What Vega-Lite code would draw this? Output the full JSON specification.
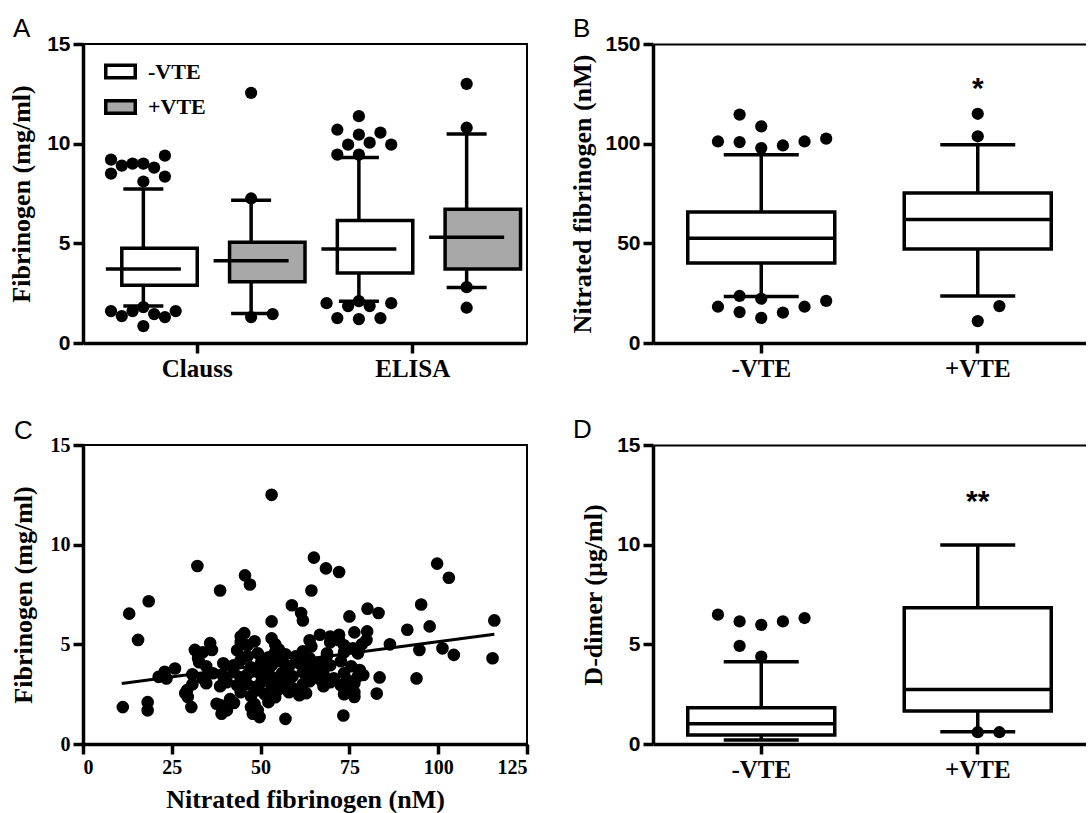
{
  "$schema": "https://vega.github.io/schema/vega-lite/v6.json",
  "padding": {"left": 7, "top": 15, "right": 0, "bottom": 0},
  "columns": 2,
  "spacing": {"row": 102, "column": 126},
  "bounds": "flush",
  "datasets": {
    "boxA": [
      {"method": "Clauss", "group": "-VTE", "lower": 1.85, "q1": 2.9, "median": 3.71, "q3": 4.75, "upper": 7.72},
      {"method": "Clauss", "group": "+VTE", "lower": 1.48, "q1": 3.07, "median": 4.13, "q3": 5.06, "upper": 7.16},
      {"method": "ELISA", "group": "-VTE", "lower": 2.1, "q1": 3.51, "median": 4.72, "q3": 6.15, "upper": 9.3},
      {"method": "ELISA", "group": "+VTE", "lower": 2.78, "q1": 3.71, "median": 5.31, "q3": 6.71, "upper": 10.48}
    ],
    "outA": [
      {"box": "Clauss -VTE", "slot": -3, "value": 9.2}, {"box": "Clauss -VTE", "slot": -3, "value": 8.5},
      {"box": "Clauss -VTE", "slot": -2, "value": 8.9}, {"box": "Clauss -VTE", "slot": -1, "value": 9.0},
      {"box": "Clauss -VTE", "slot": 0, "value": 9.0}, {"box": "Clauss -VTE", "slot": 0, "value": 8.1},
      {"box": "Clauss -VTE", "slot": 1, "value": 8.8}, {"box": "Clauss -VTE", "slot": 2, "value": 9.4},
      {"box": "Clauss -VTE", "slot": 2, "value": 8.35},
      {"box": "Clauss -VTE", "slot": -3, "value": 1.6}, {"box": "Clauss -VTE", "slot": -2, "value": 1.35},
      {"box": "Clauss -VTE", "slot": -1, "value": 1.6}, {"box": "Clauss -VTE", "slot": 0, "value": 1.8},
      {"box": "Clauss -VTE", "slot": 1, "value": 1.45}, {"box": "Clauss -VTE", "slot": 2, "value": 1.3},
      {"box": "Clauss -VTE", "slot": 3, "value": 1.6}, {"box": "Clauss -VTE", "slot": 0, "value": 0.85},
      {"box": "Clauss +VTE", "slot": 0, "value": 12.55}, {"box": "Clauss +VTE", "slot": 0, "value": 7.25},
      {"box": "Clauss +VTE", "slot": 0, "value": 1.3}, {"box": "Clauss +VTE", "slot": 2, "value": 1.45},
      {"box": "ELISA -VTE", "slot": 0, "value": 11.38}, {"box": "ELISA -VTE", "slot": -2, "value": 10.7},
      {"box": "ELISA -VTE", "slot": 0, "value": 10.45}, {"box": "ELISA -VTE", "slot": 2, "value": 10.55},
      {"box": "ELISA -VTE", "slot": -1, "value": 9.95}, {"box": "ELISA -VTE", "slot": 1, "value": 10.05},
      {"box": "ELISA -VTE", "slot": 3, "value": 9.95}, {"box": "ELISA -VTE", "slot": -2, "value": 9.45},
      {"box": "ELISA -VTE", "slot": 0, "value": 9.45},
      {"box": "ELISA -VTE", "slot": -3, "value": 2.0}, {"box": "ELISA -VTE", "slot": 0, "value": 2.1},
      {"box": "ELISA -VTE", "slot": 3, "value": 2.0}, {"box": "ELISA -VTE", "slot": -2, "value": 1.25},
      {"box": "ELISA -VTE", "slot": 0, "value": 1.2}, {"box": "ELISA -VTE", "slot": 2, "value": 1.25},
      {"box": "ELISA -VTE", "slot": -1, "value": 1.85}, {"box": "ELISA -VTE", "slot": 1, "value": 1.85},
      {"box": "ELISA +VTE", "slot": 0, "value": 13.0}, {"box": "ELISA +VTE", "slot": 0, "value": 10.8},
      {"box": "ELISA +VTE", "slot": 0, "value": 2.8}, {"box": "ELISA +VTE", "slot": 0, "value": 1.77}
    ],
    "boxB": [
      {"group": "-VTE", "lower": 23.3, "q1": 40.1, "median": 52.6, "q3": 65.7, "upper": 94.4},
      {"group": "+VTE", "lower": 23.6, "q1": 47.2, "median": 62.0, "q3": 75.3, "upper": 99.4}
    ],
    "outB": [
      {"group": "-VTE", "slot": -1, "value": 114.6}, {"group": "-VTE", "slot": 0, "value": 108.7},
      {"group": "-VTE", "slot": -2, "value": 101.1}, {"group": "-VTE", "slot": -1, "value": 100.8},
      {"group": "-VTE", "slot": 0, "value": 97.8}, {"group": "-VTE", "slot": 1, "value": 99.1},
      {"group": "-VTE", "slot": 2, "value": 101.1}, {"group": "-VTE", "slot": 3, "value": 102.5},
      {"group": "-VTE", "slot": -1, "value": 23.6}, {"group": "-VTE", "slot": 0, "value": 22.2},
      {"group": "-VTE", "slot": -2, "value": 18.2}, {"group": "-VTE", "slot": -1, "value": 15.5},
      {"group": "-VTE", "slot": 0, "value": 12.6}, {"group": "-VTE", "slot": 1, "value": 15.2},
      {"group": "-VTE", "slot": 2, "value": 18.2}, {"group": "-VTE", "slot": 3, "value": 21.1},
      {"group": "+VTE", "slot": 0, "value": 115.0}, {"group": "+VTE", "slot": 0, "value": 103.7},
      {"group": "+VTE", "slot": 1, "value": 18.5}, {"group": "+VTE", "slot": 0, "value": 11.0}
    ],
    "starB": [{"group": "+VTE", "value": 122.8, "label": "*"}],
    "boxD": [
      {"group": "-VTE", "lower": 0.2, "q1": 0.455, "median": 1.01, "q3": 1.82, "upper": 4.13},
      {"group": "+VTE", "lower": 0.62, "q1": 1.65, "median": 2.73, "q3": 6.83, "upper": 9.98}
    ],
    "outD": [
      {"group": "-VTE", "slot": -2, "value": 6.49}, {"group": "-VTE", "slot": -1, "value": 6.15},
      {"group": "-VTE", "slot": 0, "value": 5.98}, {"group": "-VTE", "slot": 1, "value": 6.15},
      {"group": "-VTE", "slot": 2, "value": 6.32}, {"group": "-VTE", "slot": -1, "value": 4.92},
      {"group": "-VTE", "slot": 0, "value": 4.38},
      {"group": "+VTE", "slot": 0, "value": 0.59}, {"group": "+VTE", "slot": 1, "value": 0.59}
    ],
    "starD": [{"group": "+VTE", "value": 11.7, "label": "**"}],
    "fitC": [{"nf": 10.9, "fib": 3.03}, {"nf": 115.8, "fib": 5.51}],
    "scatterC": [
      {"nf": 53.1, "fib": 12.5}, {"nf": 32.2, "fib": 8.93}, {"nf": 38.6, "fib": 7.7}, {"nf": 45.6, "fib": 8.46},
      {"nf": 47.0, "fib": 8.0}, {"nf": 18.5, "fib": 7.16}, {"nf": 13.0, "fib": 6.54}, {"nf": 15.5, "fib": 5.22},
      {"nf": 11.2, "fib": 1.85}, {"nf": 18.2, "fib": 2.1}, {"nf": 18.2, "fib": 1.69}, {"nf": 65.0, "fib": 9.35},
      {"nf": 68.4, "fib": 8.81}, {"nf": 72.1, "fib": 8.63}, {"nf": 64.3, "fib": 7.7}, {"nf": 58.8, "fib": 6.96},
      {"nf": 61.4, "fib": 6.57}, {"nf": 61.9, "fib": 6.2}, {"nf": 53.1, "fib": 6.15}, {"nf": 75.0, "fib": 6.4},
      {"nf": 80.1, "fib": 6.79}, {"nf": 83.2, "fib": 6.57}, {"nf": 76.4, "fib": 5.6}, {"nf": 80.0, "fib": 5.65},
      {"nf": 79.8, "fib": 5.22}, {"nf": 86.4, "fib": 5.0}, {"nf": 91.3, "fib": 5.73}, {"nf": 95.2, "fib": 7.0},
      {"nf": 97.6, "fib": 5.9}, {"nf": 99.7, "fib": 9.05}, {"nf": 103.0, "fib": 8.34}, {"nf": 115.8, "fib": 6.2},
      {"nf": 115.3, "fib": 4.3}, {"nf": 94.7, "fib": 4.72}, {"nf": 101.2, "fib": 4.8}, {"nf": 104.4, "fib": 4.47},
      {"nf": 93.9, "fib": 3.29}, {"nf": 83.5, "fib": 3.34}, {"nf": 82.7, "fib": 2.53}, {"nf": 78.9, "fib": 3.46},
      {"nf": 77.9, "fib": 3.71}, {"nf": 73.3, "fib": 1.43}, {"nf": 57.0, "fib": 1.26}, {"nf": 49.7, "fib": 1.35},
      {"nf": 47.8, "fib": 1.52}, {"nf": 44.4, "fib": 5.39}, {"nf": 45.4, "fib": 5.56}, {"nf": 35.8, "fib": 5.06},
      {"nf": 36.3, "fib": 4.72}, {"nf": 31.5, "fib": 4.72}, {"nf": 32.4, "fib": 4.3}, {"nf": 25.9, "fib": 3.79},
      {"nf": 23.0, "fib": 3.62}, {"nf": 21.3, "fib": 3.37}, {"nf": 23.5, "fib": 3.29}, {"nf": 29.3, "fib": 2.7},
      {"nf": 29.5, "fib": 2.36}, {"nf": 30.5, "fib": 1.85}, {"nf": 37.6, "fib": 2.02}, {"nf": 39.0, "fib": 1.52},
      {"nf": 40.5, "fib": 1.69}, {"nf": 42.5, "fib": 2.06}, {"nf": 47.3, "fib": 1.85}, {"nf": 76.4, "fib": 2.36},
      {"nf": 75.5, "fib": 2.7}, {"nf": 72.1, "fib": 5.48}, {"nf": 66.7, "fib": 5.48}, {"nf": 69.6, "fib": 5.39},
      {"nf": 64.3, "fib": 4.89}, {"nf": 68.7, "fib": 4.55}, {"nf": 76.0, "fib": 4.8}, {"nf": 78.5, "fib": 5.0},
      {"nf": 44.4, "fib": 5.1}, {"nf": 46.3, "fib": 4.95}, {"nf": 48.3, "fib": 5.15}, {"nf": 53.1, "fib": 5.3},
      {"nf": 54.1, "fib": 5.0}, {"nf": 63.8, "fib": 5.2}, {"nf": 69.6, "fib": 5.1}, {"nf": 72.1, "fib": 5.2},
      {"nf": 73.5, "fib": 4.95},
      {"nf": 33.7, "fib": 4.6}, {"nf": 43.4, "fib": 4.7}, {"nf": 46.3, "fib": 4.4}, {"nf": 49.2, "fib": 4.55},
      {"nf": 52.2, "fib": 4.35}, {"nf": 54.1, "fib": 4.6}, {"nf": 57.0, "fib": 4.5}, {"nf": 59.9, "fib": 4.4},
      {"nf": 61.9, "fib": 4.65}, {"nf": 63.8, "fib": 4.3}, {"nf": 68.7, "fib": 4.45}, {"nf": 73.5, "fib": 4.6},
      {"nf": 77.4, "fib": 4.55}, {"nf": 55.1, "fib": 4.75}, {"nf": 60.9, "fib": 4.25},
      {"nf": 32.7, "fib": 4.1}, {"nf": 34.7, "fib": 3.9}, {"nf": 39.5, "fib": 4.05}, {"nf": 42.4, "fib": 3.95},
      {"nf": 44.4, "fib": 4.2}, {"nf": 47.3, "fib": 3.85}, {"nf": 50.2, "fib": 4.1}, {"nf": 53.1, "fib": 3.95},
      {"nf": 55.1, "fib": 4.15}, {"nf": 58.0, "fib": 3.9}, {"nf": 60.9, "fib": 4.05}, {"nf": 63.8, "fib": 3.85},
      {"nf": 66.7, "fib": 4.1}, {"nf": 69.6, "fib": 3.95}, {"nf": 72.6, "fib": 4.15}, {"nf": 75.5, "fib": 3.9},
      {"nf": 51.2, "fib": 3.8}, {"nf": 56.0, "fib": 4.25}, {"nf": 62.8, "fib": 4.2}, {"nf": 67.7, "fib": 3.75},
      {"nf": 30.8, "fib": 3.5}, {"nf": 33.7, "fib": 3.3}, {"nf": 36.6, "fib": 3.55}, {"nf": 39.5, "fib": 3.4},
      {"nf": 42.4, "fib": 3.6}, {"nf": 44.4, "fib": 3.35}, {"nf": 46.3, "fib": 3.5}, {"nf": 50.2, "fib": 3.45},
      {"nf": 52.2, "fib": 3.6}, {"nf": 54.1, "fib": 3.3}, {"nf": 56.0, "fib": 3.55}, {"nf": 59.0, "fib": 3.4},
      {"nf": 61.9, "fib": 3.6}, {"nf": 64.8, "fib": 3.35}, {"nf": 67.7, "fib": 3.5}, {"nf": 70.6, "fib": 3.3},
      {"nf": 73.5, "fib": 3.55}, {"nf": 74.5, "fib": 3.2}, {"nf": 77.4, "fib": 3.4}, {"nf": 48.3, "fib": 3.65},
      {"nf": 57.0, "fib": 3.7}, {"nf": 65.7, "fib": 3.65},
      {"nf": 30.8, "fib": 3.0}, {"nf": 34.7, "fib": 3.05}, {"nf": 38.6, "fib": 2.9}, {"nf": 40.5, "fib": 3.1},
      {"nf": 43.4, "fib": 2.95}, {"nf": 46.3, "fib": 3.0}, {"nf": 48.3, "fib": 2.85}, {"nf": 50.2, "fib": 3.1},
      {"nf": 53.1, "fib": 2.9}, {"nf": 56.0, "fib": 3.05}, {"nf": 59.0, "fib": 2.8}, {"nf": 61.9, "fib": 3.0},
      {"nf": 63.8, "fib": 3.15}, {"nf": 67.7, "fib": 2.9}, {"nf": 69.6, "fib": 3.1}, {"nf": 72.6, "fib": 2.95},
      {"nf": 74.5, "fib": 2.8}, {"nf": 76.4, "fib": 3.05}, {"nf": 45.4, "fib": 3.2}, {"nf": 51.2, "fib": 3.25},
      {"nf": 58.0, "fib": 3.2}, {"nf": 66.7, "fib": 3.25},
      {"nf": 28.8, "fib": 2.55}, {"nf": 44.4, "fib": 2.6}, {"nf": 47.3, "fib": 2.4}, {"nf": 51.2, "fib": 2.5},
      {"nf": 54.1, "fib": 2.35}, {"nf": 58.0, "fib": 2.6}, {"nf": 60.9, "fib": 2.45}, {"nf": 62.8, "fib": 2.55},
      {"nf": 73.5, "fib": 2.5}, {"nf": 76.4, "fib": 2.6}, {"nf": 49.2, "fib": 2.7}, {"nf": 55.1, "fib": 2.75},
      {"nf": 38.6, "fib": 1.95}, {"nf": 40.5, "fib": 1.8}, {"nf": 48.3, "fib": 2.0}, {"nf": 49.2, "fib": 1.7},
      {"nf": 52.2, "fib": 2.1}, {"nf": 41.4, "fib": 2.25}
    ]
  },
  "concat": [
    {
      "width": 444, "height": 299,
      "title": {"text": "A", "dx": -70},
      "layer": [
        {
          "layer": [
            {
              "data": {"name": "boxA"},
              "mark": {"type": "rule", "color": "black", "strokeWidth": 3.5},
              "encoding": {
                "x": {"field": "method", "type": "nominal", "sort": ["Clauss", "ELISA"],
                      "scale": {"domain": ["Clauss", "ELISA"], "paddingInner": 0, "paddingOuter": 0.03},
                      "axis": {"title": null, "labelFont": "Liberation Serif", "labelFontSize": 25, "labelPadding": 3}},
                "xOffset": {"field": "group", "type": "nominal", "scale": {"domain": ["-VTE", "+VTE"], "paddingInner": 0, "paddingOuter": 0}},
                "y": {"field": "lower", "type": "quantitative", "scale": {"domain": [0, 15], "nice": false},
                      "axis": {"values": [0, 5, 10, 15], "title": "Fibrinogen (mg/ml)", "titlePadding": 12}},
                "y2": {"field": "upper"}
              }
            },
            {
              "data": {"name": "boxA"},
              "mark": {"type": "bar", "stroke": "black", "strokeWidth": 3.5, "width": {"band": 0.7}, "opacity": 1},
              "encoding": {
                "x": {"field": "method", "type": "nominal"},
                "xOffset": {"field": "group", "type": "nominal"},
                "y": {"field": "q1", "type": "quantitative"},
                "y2": {"field": "q3"},
                "fill": {"field": "group", "type": "nominal",
                         "scale": {"domain": ["-VTE", "+VTE"], "range": ["#ffffff", "#a8a8a8"]},
                         "legend": {"orient": "none", "legendX": 21, "legendY": 11, "title": null, "padding": 0,
                                    "symbolType": "M-1,-0.42H1V0.42H-1Z", "symbolSize": 870,
                                    "symbolStrokeColor": "black", "symbolStrokeWidth": 3.5, "symbolOpacity": 1,
                                    "labelFont": "Liberation Serif", "labelFontWeight": "bold", "labelFontSize": 22,
                                    "labelColor": "black", "labelOffset": 11, "rowPadding": 5.5}}
              }
            },
            {
              "data": {"name": "boxA"},
              "mark": {"type": "tick", "color": "black", "size": 75, "thickness": 3.5, "opacity": 1},
              "encoding": {
                "x": {"field": "method", "type": "nominal"},
                "xOffset": {"field": "group", "type": "nominal"},
                "y": {"field": "median", "type": "quantitative"}
              }
            },
            {
              "data": {"name": "boxA"},
              "mark": {"type": "tick", "color": "black", "size": 40, "thickness": 3.5, "opacity": 1},
              "encoding": {
                "x": {"field": "method", "type": "nominal"},
                "xOffset": {"field": "group", "type": "nominal"},
                "y": {"field": "upper", "type": "quantitative"}
              }
            },
            {
              "data": {"name": "boxA"},
              "mark": {"type": "tick", "color": "black", "size": 40, "thickness": 3.5, "opacity": 1},
              "encoding": {
                "x": {"field": "method", "type": "nominal"},
                "xOffset": {"field": "group", "type": "nominal"},
                "y": {"field": "lower", "type": "quantitative"}
              }
            }
          ]
        },
        {
          "data": {"name": "outA"},
          "mark": {"type": "point", "filled": true, "color": "black", "size": 150, "opacity": 1},
          "encoding": {
            "x": {"field": "box", "type": "nominal",
                  "scale": {"domain": ["Clauss -VTE", "Clauss +VTE", "ELISA -VTE", "ELISA +VTE"], "paddingInner": 0, "paddingOuter": 0.06},
                  "axis": null},
            "xOffset": {"field": "slot", "type": "nominal",
                        "scale": {"domain": [-4, -3, -2, -1, 0, 1, 2, 3, 4], "paddingInner": 0, "paddingOuter": 1.92}},
            "y": {"field": "value", "type": "quantitative"}
          }
        }
      ],
      "resolve": {"scale": {"x": "independent", "xOffset": "independent"}}
    },
    {
      "width": 433, "height": 299,
      "title": {"text": "B", "dx": -80},
      "view": {"stroke": null},
      "layer": [
        {
          "data": {"name": "boxB"},
          "mark": {"type": "rule", "color": "black", "strokeWidth": 3.5},
          "encoding": {
            "x": {"field": "group", "type": "nominal",
                  "scale": {"domain": ["-VTE", "+VTE"], "paddingInner": 0, "paddingOuter": 0},
                  "axis": {"title": null, "labelFont": "Liberation Serif", "labelFontSize": 25, "labelPadding": 3}},
            "y": {"field": "lower", "type": "quantitative", "scale": {"domain": [0, 150], "nice": false},
                  "axis": {"values": [0, 50, 100, 150], "title": "Nitrated fibrinogen (nM)", "titlePadding": 9}},
            "y2": {"field": "upper"}
          }
        },
        {
          "data": {"name": "boxB"},
          "mark": {"type": "bar", "fill": "white", "stroke": "black", "strokeWidth": 3.5, "width": 147},
          "encoding": {
            "x": {"field": "group", "type": "nominal", "axis": null},
            "y": {"field": "q1", "type": "quantitative"},
            "y2": {"field": "q3"}
          }
        },
        {
          "data": {"name": "boxB"},
          "mark": {"type": "tick", "color": "black", "size": 147, "thickness": 3.5, "opacity": 1},
          "encoding": {
            "x": {"field": "group", "type": "nominal", "axis": null},
            "y": {"field": "median", "type": "quantitative"}
          }
        },
        {
          "data": {"name": "boxB"},
          "mark": {"type": "tick", "color": "black", "size": 75, "thickness": 3.5, "opacity": 1},
          "encoding": {
            "x": {"field": "group", "type": "nominal", "axis": null},
            "y": {"field": "upper", "type": "quantitative"}
          }
        },
        {
          "data": {"name": "boxB"},
          "mark": {"type": "tick", "color": "black", "size": 75, "thickness": 3.5, "opacity": 1},
          "encoding": {
            "x": {"field": "group", "type": "nominal", "axis": null},
            "y": {"field": "lower", "type": "quantitative"}
          }
        },
        {
          "data": {"name": "outB"},
          "mark": {"type": "point", "filled": true, "color": "black", "size": 150, "opacity": 1},
          "encoding": {
            "x": {"field": "group", "type": "nominal", "axis": null},
            "xOffset": {"field": "slot", "type": "nominal",
                        "scale": {"domain": [-4, -3, -2, -1, 0, 1, 2, 3, 4], "paddingInner": 0, "paddingOuter": 1.76}},
            "y": {"field": "value", "type": "quantitative"}
          }
        },
        {
          "data": {"name": "starB"},
          "mark": {"type": "text", "font": "Liberation Sans", "fontWeight": "bold", "fontSize": 30, "baseline": "alphabetic", "color": "black"},
          "encoding": {
            "x": {"field": "group", "type": "nominal",
                  "axis": {"orient": "top", "labels": false, "ticks": false, "title": null, "domainWidth": 2}},
            "y": {"field": "value", "type": "quantitative"},
            "text": {"field": "label"}
          }
        }
      ],
      "resolve": {"axis": {"x": "independent"}}
    },
    {
      "width": 444, "height": 299,
      "title": {"text": "C", "dx": -69},
      "layer": [
        {
          "data": {"name": "scatterC"},
          "mark": {"type": "point", "filled": true, "color": "black", "size": 160, "opacity": 1},
          "encoding": {
            "x": {"field": "nf", "type": "quantitative", "scale": {"domain": [0, 125], "nice": false},
                  "axis": {"values": [0, 25, 50, 75, 100, 125], "title": "Nitrated fibrinogen (nM)",
                           "labelFont": "Liberation Serif", "labelFontSize": 20, "titlePadding": 9}},
            "y": {"field": "fib", "type": "quantitative", "scale": {"domain": [0, 15], "nice": false},
                  "axis": {"values": [0, 5, 10, 15], "title": "Fibrinogen (mg/ml)",
                           "labelFont": "Liberation Serif", "labelFontSize": 20, "titlePadding": 14}}
          }
        },
        {
          "data": {"name": "fitC"},
          "mark": {"type": "line", "color": "black", "strokeWidth": 3},
          "encoding": {
            "x": {"field": "nf", "type": "quantitative"},
            "y": {"field": "fib", "type": "quantitative"}
          }
        }
      ]
    },
    {
      "width": 433, "height": 299,
      "title": {"text": "D", "dx": -80},
      "view": {"stroke": null},
      "layer": [
        {
          "data": {"name": "boxD"},
          "mark": {"type": "rule", "color": "black", "strokeWidth": 3.5},
          "encoding": {
            "x": {"field": "group", "type": "nominal",
                  "scale": {"domain": ["-VTE", "+VTE"], "paddingInner": 0, "paddingOuter": 0},
                  "axis": {"title": null, "labelFont": "Liberation Serif", "labelFontSize": 25, "labelPadding": 3}},
            "y": {"field": "lower", "type": "quantitative", "scale": {"domain": [0, 15], "nice": false},
                  "axis": {"values": [0, 5, 10, 15], "title": "D-dimer (µg/ml)", "titlePadding": 10}},
            "y2": {"field": "upper"}
          }
        },
        {
          "data": {"name": "boxD"},
          "mark": {"type": "bar", "fill": "white", "stroke": "black", "strokeWidth": 3.5, "width": 147},
          "encoding": {
            "x": {"field": "group", "type": "nominal", "axis": null},
            "y": {"field": "q1", "type": "quantitative"},
            "y2": {"field": "q3"}
          }
        },
        {
          "data": {"name": "boxD"},
          "mark": {"type": "tick", "color": "black", "size": 147, "thickness": 3.5, "opacity": 1},
          "encoding": {
            "x": {"field": "group", "type": "nominal", "axis": null},
            "y": {"field": "median", "type": "quantitative"}
          }
        },
        {
          "data": {"name": "boxD"},
          "mark": {"type": "tick", "color": "black", "size": 75, "thickness": 3.5, "opacity": 1},
          "encoding": {
            "x": {"field": "group", "type": "nominal", "axis": null},
            "y": {"field": "upper", "type": "quantitative"}
          }
        },
        {
          "data": {"name": "boxD"},
          "mark": {"type": "tick", "color": "black", "size": 75, "thickness": 3.5, "opacity": 1},
          "encoding": {
            "x": {"field": "group", "type": "nominal", "axis": null},
            "y": {"field": "lower", "type": "quantitative"}
          }
        },
        {
          "data": {"name": "outD"},
          "mark": {"type": "point", "filled": true, "color": "black", "size": 150, "opacity": 1},
          "encoding": {
            "x": {"field": "group", "type": "nominal", "axis": null},
            "xOffset": {"field": "slot", "type": "nominal",
                        "scale": {"domain": [-4, -3, -2, -1, 0, 1, 2, 3, 4], "paddingInner": 0, "paddingOuter": 1.76}},
            "y": {"field": "value", "type": "quantitative"}
          }
        },
        {
          "data": {"name": "starD"},
          "mark": {"type": "text", "font": "Liberation Sans", "fontWeight": "bold", "fontSize": 30, "baseline": "alphabetic", "color": "black"},
          "encoding": {
            "x": {"field": "group", "type": "nominal",
                  "axis": {"orient": "top", "labels": false, "ticks": false, "title": null, "domainWidth": 2}},
            "y": {"field": "value", "type": "quantitative"},
            "text": {"field": "label"}
          }
        }
      ],
      "resolve": {"axis": {"x": "independent"}}
    }
  ],
  "config": {
    "font": "Liberation Sans",
    "background": "white",
    "view": {"stroke": "black", "strokeWidth": 2},
    "axis": {
      "domainColor": "black", "domainWidth": 3.5, "tickColor": "black", "tickWidth": 3.5, "tickSize": 10,
      "grid": false, "labelColor": "black", "titleColor": "black", "labelFont": "Liberation Sans",
      "labelFontWeight": "bold", "labelFontSize": 21, "labelPadding": 3,
      "titleFont": "Liberation Serif", "titleFontWeight": "bold", "titleFontSize": 26
    },
    "axisX": {"labelAngle": 0},
    "title": {"anchor": "start", "frame": "group", "font": "Liberation Sans", "fontSize": 26, "fontWeight": "normal",
              "color": "black", "baseline": "alphabetic", "offset": -9}
  }
}
